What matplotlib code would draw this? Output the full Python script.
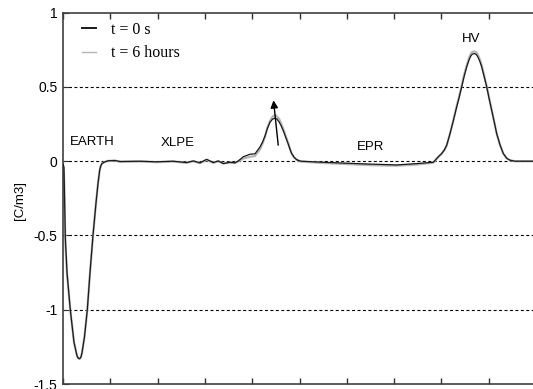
import matplotlib
matplotlib.use("Agg")
import matplotlib.pyplot as plt

# radial positions along the cable (arbitrary units, 0 = earth side, 10 = HV side)
pos = [0.0, 0.021, 0.049, 0.085, 0.154, 0.233, 0.296, 0.325, 0.353, 0.38,
       0.402, 0.455, 0.514, 0.571, 0.634, 0.698, 0.74, 0.776, 0.80, 0.825,
       0.882, 0.951, 1.10, 1.205, 1.628, 1.98, 2.33, 2.615, 2.755, 2.896,
       3.037, 3.178, 3.283, 3.389, 3.53, 3.636, 3.706, 3.812, 3.953, 4.059,
       4.165, 4.22, 4.271, 4.32, 4.376, 4.43, 4.482, 4.52, 4.567, 4.61,
       4.658, 4.71, 4.763, 4.80, 4.835, 4.89, 4.941, 5.03, 5.503, 6.209,
       6.56, 7.055, 7.478, 7.829, 7.934, 8.006, 8.06, 8.112, 8.182, 8.25,
       8.323, 8.38, 8.429, 8.48, 8.535, 8.58, 8.615, 8.65, 8.696, 8.74,
       8.774, 8.81, 8.852, 8.90, 8.958, 9.01, 9.063, 9.12, 9.169, 9.24,
       9.309, 9.38, 9.45, 9.556, 10.0]

# charge density [C/m3] right after voltage removal
rho_t0 = [-0.02, -0.04, -0.51, -0.75, -1.0, -1.22, -1.31, -1.327, -1.33, -1.318,
          -1.29, -1.18, -1.0, -0.75, -0.5, -0.28, -0.15, -0.06, -0.03, -0.015,
          -0.005, 0.003, 0.005, -0.002, 0.0, -0.004, 0.0, -0.009, 0.002, -0.011,
          0.013, -0.009, 0.002, -0.016, -0.007, -0.011, 0.002, 0.03, 0.047, 0.05,
          0.096, 0.13, 0.17, 0.22, 0.262, 0.283, 0.29, 0.285, 0.265, 0.24,
          0.205, 0.16, 0.115, 0.08, 0.052, 0.025, 0.01, 0.0, -0.007, -0.016,
          -0.02, -0.025, -0.016, -0.007, 0.03, 0.052, 0.075, 0.108, 0.186, 0.27,
          0.365, 0.435, 0.5, 0.57, 0.635, 0.678, 0.705, 0.72, 0.725, 0.718,
          0.70, 0.675, 0.635, 0.575, 0.5, 0.42, 0.343, 0.26, 0.186, 0.11,
          0.052, 0.02, 0.007, 0.0, 0.0]

# charge density [C/m3] after 6 hours
rho_6h = [-0.03, -0.08, -0.55, -0.76, -1.0, -1.22, -1.31, -1.327, -1.33, -1.318,
          -1.29, -1.18, -1.0, -0.75, -0.5, -0.28, -0.15, -0.06, -0.03, -0.015,
          -0.005, 0.002, 0.004, -0.004, -0.002, -0.006, -0.002, -0.011, 0.0, -0.013,
          0.008, -0.011, 0.0, -0.015, -0.009, -0.012, 0.0, 0.018, 0.03, 0.035,
          0.08, 0.12, 0.165, 0.225, 0.272, 0.3, 0.31, 0.303, 0.285, 0.255,
          0.215, 0.168, 0.12, 0.082, 0.05, 0.024, 0.01, -0.002, -0.012, -0.022,
          -0.027, -0.03, -0.022, -0.01, 0.028, 0.05, 0.073, 0.105, 0.185, 0.272,
          0.37, 0.443, 0.51, 0.582, 0.645, 0.69, 0.72, 0.735, 0.74, 0.733,
          0.715, 0.688, 0.645, 0.582, 0.505, 0.425, 0.345, 0.26, 0.185, 0.108,
          0.05, 0.02, 0.006, 0.0, 0.0]

y_ticks = [1, 0.5, 0, -0.5, -1, -1.5]
y_tick_labels = ['1', '0.5', '0', '-0.5', '-1', '-1.5']
grid_levels = [0.5, 0, -0.5, -1]

regions = ['EARTH', 'XLPE', 'EPR', 'HV']
region_x = [0.135, 2.07, 6.21, 8.43]
region_y = [0.13, 0.12, 0.096, 0.82]

sans = 'Liberation Sans'
serif = 'Liberation Serif'

fig = plt.figure(figsize=(5.33, 3.89), dpi=100)
# axes run past the right edge of the canvas on purpose
ax = fig.add_axes([63 / 533, 5 / 389, 473 / 533, 371.3 / 389])

for lev in grid_levels:
    ax.axhline(lev, color='black', lw=0.8, linestyle=(0, (2.7, 2.2)), zorder=1)

l6, = ax.plot(pos, rho_6h, color='#b4b4b4', lw=1.6, zorder=2)
l0, = ax.plot(pos, rho_t0, color='#1a1a1a', lw=0.9, zorder=3)

ax.set_xlim(0, 10)
ax.set_ylim(-1.5, 1)
ax.set_xticks(range(0, 11))
ax.set_xticklabels([])
ax.set_yticks(y_ticks)
ax.set_yticklabels(y_tick_labels, fontname=sans, fontsize=10)
ax.tick_params(axis='x', direction='in', length=4.5, top=True, bottom=True,
               color='#303030', width=1)
ax.tick_params(axis='y', direction='in', length=4, pad=4, color='#303030')

for side in ['left', 'bottom', 'top', 'right']:
    ax.spines[side].set_color('#404040')
    ax.spines[side].set_linewidth(1.2)

for name, rx, ry in zip(regions, region_x, region_y):
    ax.text(rx, ry, name, fontname=sans, fontsize=9.5, ha='left', va='center')

# arrow marking the growth of the XLPE peak
ax.annotate('', xy=(4.45, 0.41), xytext=(4.55, 0.108),
            arrowprops=dict(arrowstyle='-|>', color='black', lw=1,
                            mutation_scale=11, shrinkA=0, shrinkB=0))

fig.text(20 / 533, 1 - 200 / 389, '[C/m3]', rotation=90, fontname=sans,
         fontsize=9.5, ha='center', va='center')

leg = ax.legend([l0, l6], ['t = 0 s', 't = 6 hours'], loc='upper left',
                bbox_to_anchor=(0.04, 0.975), frameon=False, borderpad=0,
                borderaxespad=0, handlelength=0.9, handletextpad=0.9,
                labelspacing=0.45, prop={'family': serif, 'size': 11.5})
leg.get_lines()[0].set_linewidth(1.4)
leg.get_lines()[1].set_linewidth(1.0)

fig.savefig('out.png', dpi=100)
